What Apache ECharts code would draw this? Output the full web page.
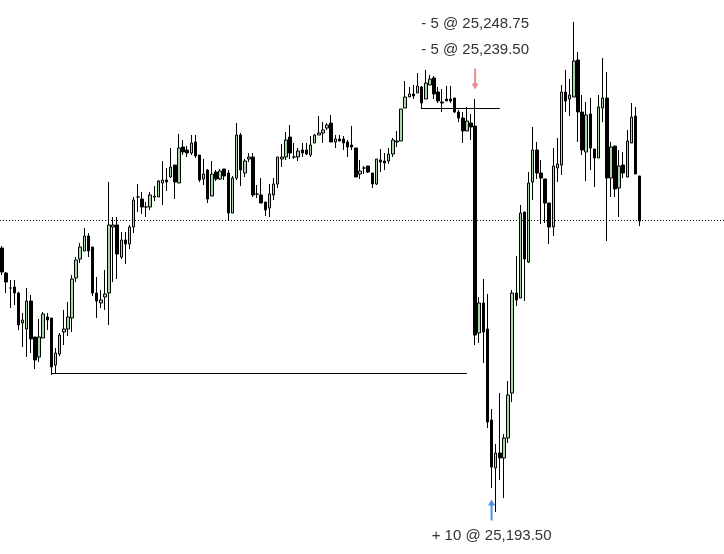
<!DOCTYPE html>
<html>
<head>
<meta charset="utf-8">
<style>
  html, body { margin: 0; padding: 0; background: #fff; }
  #chart { width: 724px; height: 554px; }
</style>
<script src="https://cdn.jsdelivr.net/npm/echarts@6/dist/echarts.min.js"></script>
</head>
<body>
<div id="chart"></div>
<script>
// OHLC, one entry per bar (156 bars)
const opens = [
  25225, 25221.875, 25220, 25220.125, 25219.375, 25215.625, 25214.875, 25218.375, 25213.875, 25211.375,
  25213.75, 25216.375, 25216.25, 25210.375, 25211.75, 25214.5, 25214.875, 25216.25, 25221.25, 25223.625,
  25224.625, 25226.5, 25225.125, 25219.375, 25218.125, 25218.875, 25219.375, 25227.625, 25227.875, 25223.875,
  25226, 25225.5, 25227.625, 25231.375, 25231.125, 25230.125, 25230.125, 25231.375, 25231.375, 25233.125,
  25233.5, 25233.875, 25235.375, 25233.125, 25237.625, 25237.25, 25236.875, 25238.25, 25236.625, 25233.625,
  25234.75, 25231.5, 25234.5, 25233.625, 25234.875, 25234.375, 25229.375, 25233.75, 25239.125, 25234.375,
  25236.125, 25236.375, 25231.75, 25231.625, 25230.75, 25230, 25231.625, 25233, 25236.125, 25236.375,
  25238.875, 25236.375, 25236.375, 25237.25, 25237.25, 25236.625, 25238.125, 25239.125, 25239.375, 25240,
  25240.625, 25238.25, 25238.625, 25238.625, 25238.25, 25237.875, 25237.5, 25234.25, 25235, 25235.25,
  25234.375, 25233, 25236, 25235.875, 25235.875, 25236.75, 25238.25, 25238.375, 25242.5, 25243.875,
  25244.25, 25244.375, 25245.125, 25243.625, 25245.375, 25246.25, 25244.5, 25243.25, 25243.625, 25243.625,
  25243.75, 25242, 25241.25, 25239.625, 25240.625, 25240.25, 25214.375, 25218.125, 25214.875, 25203.5,
  25197.5, 25199.375, 25198.75, 25201.25, 25206.875, 25219.375, 25218.75, 25229.5, 25223.25, 25233.25,
  25237.25, 25234.375, 25233.625, 25230.625, 25227.625, 25235, 25235.375, 25244.5, 25243.625, 25243.875,
  25248.5, 25242, 25237, 25241.75, 25237.375, 25236.25, 25242.5, 25243.75, 25233.75, 25237.75,
  25232.5, 25235.375, 25233.875, 25238.125, 25241.5, 25234
];
const closes = [
  25222, 25220.75, 25220, 25219.375, 25215.375, 25216, 25218.375, 25213.625, 25211, 25213.875,
  25216.75, 25216, 25210.125, 25211.875, 25214.125, 25214.875, 25216.375, 25221.125, 25223.5, 25225.125,
  25226.5, 25224.625, 25219.375, 25218.375, 25218.5, 25219.25, 25227.875, 25227.875, 25224.25, 25226,
  25225.5, 25227.625, 25231, 25231.375, 25230.125, 25230.125, 25231.625, 25231.5, 25233.375, 25233.5,
  25233.25, 25235.125, 25233.25, 25237.5, 25237, 25236.875, 25238.125, 25236.5, 25233.5, 25234.25,
  25231.125, 25234.25, 25233.625, 25234.625, 25234, 25229.375, 25233.75, 25239.125, 25234.75, 25235.875,
  25236.375, 25231.625, 25231.75, 25230.625, 25229.75, 25231.75, 25233, 25236.375, 25236.375, 25238.5,
  25236.875, 25236.375, 25237.125, 25236.875, 25236.75, 25237.875, 25239.125, 25239.375, 25239.75, 25240.375,
  25238.25, 25238.625, 25238.375, 25238.125, 25237.625, 25237.625, 25233.875, 25234.625, 25235, 25234.5,
  25233, 25236.125, 25235.75, 25235.625, 25236.75, 25238.5, 25238.375, 25242.375, 25243.875, 25244.25,
  25244, 25245.25, 25243.125, 25245.625, 25246.125, 25244.25, 25243.375, 25243.125, 25243.375, 25243.375,
  25242, 25241.25, 25239.625, 25240.875, 25240.125, 25214.125, 25218.125, 25214.5, 25203.25, 25197.625,
  25199.375, 25198.75, 25201.25, 25206.625, 25219.375, 25218.5, 25229.375, 25223.625, 25233.125, 25237.25,
  25234.375, 25233.75, 25230.625, 25227.625, 25235.25, 25235.5, 25244.5, 25243.375, 25244.125, 25248.375,
  25242, 25237.25, 25241.625, 25237.5, 25236.25, 25242.625, 25243.75, 25233.75, 25237.625, 25232.375,
  25235.25, 25234.375, 25238.375, 25241.375, 25234.25, 25228.375
];
const lows = [
  25221.625, 25219.375, 25217.5, 25217.875, 25214.75, 25212.625, 25211.375, 25211.875, 25209.875, 25210.75,
  25213.75, 25214.75, 25209.125, 25209.375, 25211.5, 25212.875, 25214, 25214.5, 25220.75, 25223.125,
  25224.625, 25223.875, 25219, 25216.25, 25217.5, 25217.25, 25215.375, 25220.75, 25221.125, 25223.625,
  25223, 25224.875, 25226.875, 25229.5, 25229.25, 25228.875, 25229.75, 25230.875, 25231.375, 25230.375,
  25232.125, 25233.75, 25231.125, 25233.125, 25236.625, 25236.375, 25236.625, 25236.25, 25233.25, 25232.875,
  25230.625, 25231.5, 25233.375, 25233.5, 25233.5, 25228.375, 25229.375, 25233.5, 25232.75, 25233.875,
  25235.75, 25231.375, 25231.25, 25230.625, 25229, 25228.875, 25231, 25232.5, 25235.125, 25236,
  25236.125, 25236.125, 25235.875, 25236.375, 25236.625, 25236.375, 25238.125, 25239.125, 25238.125, 25239.75,
  25238.25, 25237.5, 25238.375, 25237.25, 25236.375, 25237.25, 25233.875, 25233.625, 25234.25, 25234.375,
  25232.5, 25232.875, 25234.5, 25234.75, 25235.5, 25236.375, 25237.625, 25238.375, 25242.5, 25243.875,
  25243.625, 25244.375, 25242.375, 25243.625, 25245.375, 25243.625, 25243.125, 25242, 25243.375, 25243.125,
  25241.875, 25240.75, 25238.125, 25239.625, 25238.5, 25212.875, 25213.125, 25210.625, 25202.5, 25195,
  25192, 25196, 25193.75, 25200.625, 25205.75, 25217.75, 25218.75, 25218.375, 25223.125, 25231,
  25233.625, 25228, 25228.125, 25225.5, 25226.5, 25233.25, 25234.125, 25242, 25241.5, 25243.875,
  25238.25, 25236.625, 25233.375, 25234.75, 25232.625, 25236.25, 25240.75, 25225.875, 25231.375, 25231.375,
  25228.875, 25233.75, 25233.875, 25238.125, 25234.25, 25227.75
];
const highs = [
  25225.25, 25222, 25221, 25221, 25219.5, 25216.875, 25220, 25219.125, 25213.875, 25216.125,
  25217, 25216.875, 25216.25, 25212.5, 25214.375, 25217.25, 25218.25, 25221.625, 25223.875, 25225.625,
  25227.5, 25226.875, 25225.125, 25221.375, 25219.75, 25222.25, 25233.25, 25228.875, 25228.875, 25227,
  25227, 25227.875, 25231.375, 25233, 25232, 25230.75, 25232, 25232.75, 25233.5, 25235.875,
  25235, 25237.5, 25235.375, 25239.25, 25238.5, 25237.75, 25239.125, 25239.125, 25236.625, 25236.125,
  25234.875, 25235.875, 25234.75, 25234.875, 25234.875, 25234.75, 25234, 25240.625, 25239.375, 25236.125,
  25236.875, 25236.875, 25232.875, 25233.75, 25230.75, 25233, 25233.75, 25236.375, 25238, 25239.5,
  25240.375, 25238.125, 25237.5, 25238.125, 25238.125, 25239, 25239.25, 25241.5, 25240.75, 25240.625,
  25241.625, 25239.125, 25239.125, 25239, 25238.5, 25240.25, 25237.5, 25236, 25235.25, 25235.25,
  25234.375, 25236.125, 25237.375, 25236.875, 25237.5, 25238.75, 25239.625, 25242.375, 25245.875, 25245.125,
  25245.375, 25246.875, 25245.25, 25247.25, 25246.625, 25246.5, 25245.125, 25244.875, 25245.25, 25245.25,
  25243.75, 25242.25, 25242, 25242.625, 25241.75, 25243.625, 25218.875, 25221.125, 25219.25, 25204.875,
  25200.5, 25206.875, 25201.75, 25208.375, 25219.75, 25224, 25230.375, 25229.5, 25234.5, 25240.125,
  25238.25, 25236, 25233.625, 25230.625, 25237.5, 25238.75, 25245.375, 25247.25, 25246.125, 25253.25,
  25249.5, 25244.125, 25243.25, 25243.75, 25237.375, 25244.125, 25248.75, 25247, 25238.25, 25237.75,
  25237.25, 25237, 25239.75, 25243.125, 25242.625, 25234
];

// empty slots to the right of the last bar
const slotCount = 176;
const categories = [];
for (let i = 0; i < slotCount; i++) categories.push(String(i));

const lastPrice = 25228.4375;
const supportLine = { from: 12, to: 113, price: 25209.3125 };
const entryLine = { from: 102, to: 121, price: 25242.4375 };

const sells = ['- 5 @ 25,248.75', '- 5 @ 25,239.50'];
const buys = ['+ 10 @ 25,193.50'];
const sellBar = 115;
const buyBar = 119;

const candles = opens.map((o, i) => [o, closes[i], lows[i], highs[i]]);

const arrowDown = 'path://M2.5,0 L4.5,0 L4.5,15 L7,15 L3.5,21 L0,15 L2.5,15 Z';
const arrowUp = 'path://M2.5,21 L4.5,21 L4.5,6 L7,6 L3.5,0 L0,6 L2.5,6 Z';

function textPoint(text, bar, price) {
  return {
    coord: [bar, price],
    symbol: 'rect',
    symbolSize: 1,
    itemStyle: { color: 'rgba(0,0,0,0)' },
    label: {
      show: true,
      position: 'inside',
      formatter: text,
      color: '#333',
      fontSize: 15,
      fontFamily: 'Liberation Sans, Arial, sans-serif'
    }
  };
}

const chart = echarts.init(document.getElementById('chart'));
const option = {
  animation: false,
  grid: { left: -1.56, right: 0, top: 0, bottom: 0 },
  xAxis: {
    type: 'category',
    data: categories,
    show: false
  },
  yAxis: {
    type: 'value',
    min: 25186.75,
    max: 25256,
    show: false,
    splitLine: { show: false }
  },
  series: [
    {
      type: 'candlestick',
      data: candles,
      barWidth: 3,
      silent: true,
      itemStyle: {
        color: '#a3d9a5',
        color0: '#000',
        borderColor: '#000',
        borderColor0: '#000',
        borderWidth: 1
      },
      markLine: {
        silent: true,
        symbol: 'none',
        label: { show: false },
        data: [
          {
            yAxis: lastPrice,
            lineStyle: { color: '#000', width: 1, type: [1, 2] }
          },
          [
            { coord: [supportLine.from, supportLine.price], lineStyle: { color: '#000', width: 1, type: 'solid' } },
            { coord: [supportLine.to, supportLine.price] }
          ],
          [
            { coord: [entryLine.from, entryLine.price], lineStyle: { color: '#000', width: 1, type: 'solid' } },
            { coord: [entryLine.to, entryLine.price] }
          ]
        ]
      },
      markPoint: {
        silent: true,
        data: [
          {
            coord: [sellBar, 25246.125],
            symbol: arrowDown,
            symbolSize: [7, 21],
            itemStyle: { color: '#f08a8a' },
            label: { show: false }
          },
          {
            coord: [buyBar, 25192.25],
            symbol: arrowUp,
            symbolSize: [7, 21],
            itemStyle: { color: '#4a90e2' },
            label: { show: false }
          },
          textPoint(sells[0], sellBar, 25253),
          textPoint(sells[1], sellBar, 25249.75),
          textPoint(buys[0], buyBar, 25189)
        ]
      }
    }
  ]
};
chart.setOption(option);

window.addEventListener('resize', () => chart.resize());
</script>
</body>
</html>
